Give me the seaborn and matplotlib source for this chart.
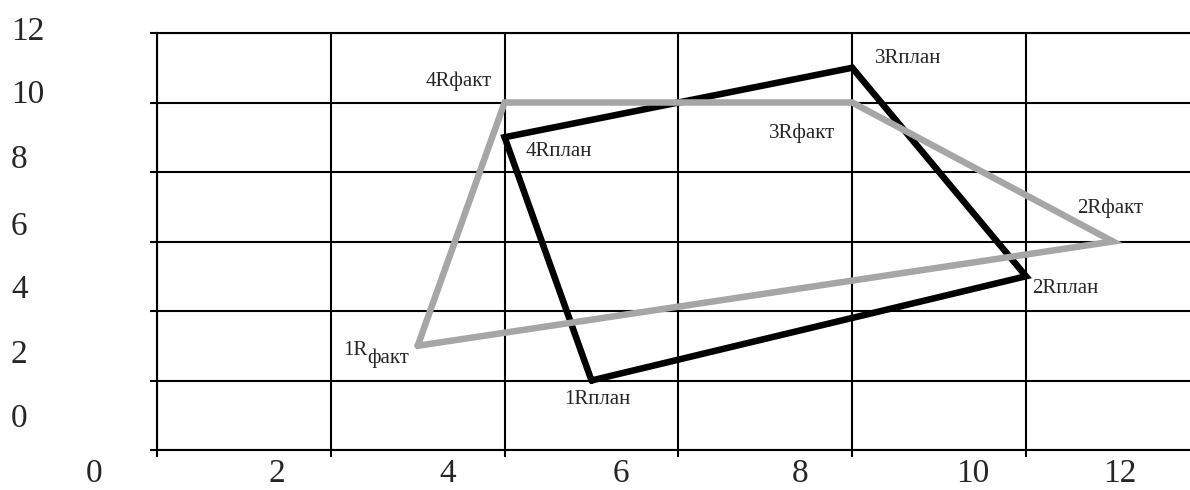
import numpy as np
import pandas as pd
import seaborn as sns
import matplotlib.pyplot as plt

# Vertices 1R..4R of the planned and actual quadrilaterals
plan_x = [5, 10, 8, 4]
plan_y = [2, 5, 11, 9]
fact_x = [3, 11, 8, 4]
fact_y = [3, 6, 10, 10]
point_names = ["1R", "2R", "3R", "4R"]

x_tick_labels = ["0", "2", "4", "6", "8", "10", "12"]
y_tick_labels = ["12", "10", "8", "6", "4", "2", "0"]

# layout: the axis numbers sit shifted from the grid, as in the original
W, H = 1190, 490
x_label_px = [94, 277, 448, 621, 800, 973, 1120]
y_label_baseline_px = [40, 103, 168, 235, 298, 363, 427]

# label offsets from the vertex (pixels) and alignment
plan_offsets = [(6, -23, "center"), (6, -17, "left"), (23, 5, "left"), (21, -19, "left")]
fact_offsets = [None, (-3, 29, "center"), (-17, -35, "right"), (-13, 17, "right")]


def closed(xs, ys):
    return pd.DataFrame({"x": xs + xs[:1], "y": ys + ys[:1]})


plan = closed(plan_x, plan_y)
fact = closed(fact_x, fact_y)

sns.set_style("white")
plt.rcParams["font.family"] = ["Liberation Serif", "DejaVu Serif"]

fig = plt.figure(figsize=(W / 100, H / 100), dpi=100)
ax = fig.add_axes([157 / W, 40 / H, (W - 157) / W, (450 - 33) / H])

sns.lineplot(data=plan, x="x", y="y", sort=False, estimator=None, color="black",
             lw=4.7, solid_joinstyle="miter", ax=ax)
sns.lineplot(data=fact, x="x", y="y", sort=False, estimator=None, color="#a6a6a6",
             lw=4.7, solid_joinstyle="miter", ax=ax)

ax.set_xlim(0, (W - 157) / 86.9)
ax.set_ylim(0, 12)
ax.set_xticks(np.arange(0, 12, 2))
ax.set_yticks(np.arange(0, 13, 2))
ax.grid(True, color="black", lw=1.5)
ax.set_axisbelow(True)
ax.tick_params(bottom=True, left=True, length=5, width=1.5, color="black",
               direction="out", labelbottom=False, labelleft=False)
for side in ["left", "bottom", "top"]:
    ax.spines[side].set_color("black")
    ax.spines[side].set_linewidth(1.5)
ax.spines["right"].set_visible(False)
ax.set_xlabel("")
ax.set_ylabel("")

# point labels
for name, x, y, off in zip(point_names, plan_x, plan_y, plan_offsets):
    ax.annotate(name + "план", (x, y), xytext=off[:2], textcoords="offset pixels",
                ha=off[2], va="baseline", fontsize=15)
for name, x, y, off in zip(point_names, fact_x, fact_y, fact_offsets):
    if off is None:
        # 1R with "факт" written as a subscript
        ax.annotate(name, (x, y), xytext=(-50, -9), textcoords="offset pixels",
                    ha="right", va="baseline", fontsize=15)
        ax.annotate("факт", (x, y), xytext=(-50, -17), textcoords="offset pixels",
                    ha="left", va="baseline", fontsize=15)
        continue
    ax.annotate(name + "факт", (x, y), xytext=off[:2], textcoords="offset pixels",
                ha=off[2], va="baseline", fontsize=15)

# axis numbers
for lab, px in zip(x_tick_labels, x_label_px):
    fig.text(px / W, 1 / H, lab, ha="center", va="bottom", fontsize=24)
for lab, py in zip(y_tick_labels, y_label_baseline_px):
    fig.text(11 / W, 1 - py / H, lab, ha="left", va="baseline", fontsize=24)

fig.savefig("out.png", dpi=100)
